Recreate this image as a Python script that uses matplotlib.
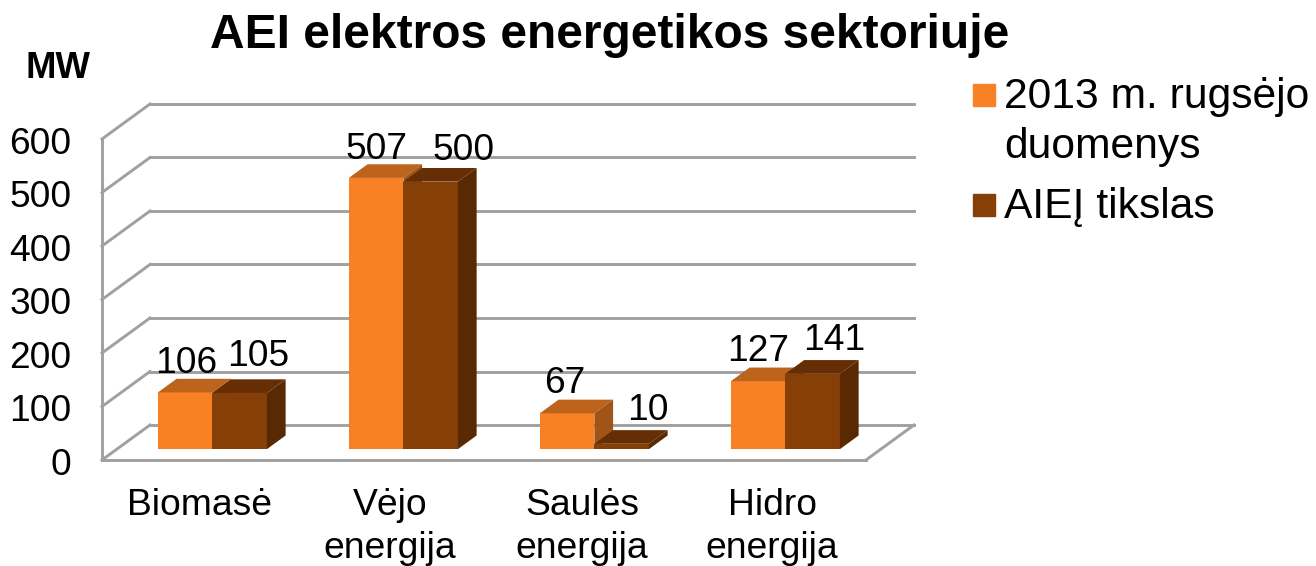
import matplotlib
matplotlib.use('Agg')
import matplotlib.pyplot as plt
from matplotlib.patches import Patch, Polygon
from matplotlib.transforms import ScaledTranslation

plt.rcParams['font.family'] = ['Liberation Sans', 'DejaVu Sans']

categories = ['Biomasė', 'Vėjo\nenergija', 'Saulės\nenergija', 'Hidro\nenergija']
values_2013 = [106, 507, 67, 127]
values_goal = [105, 500, 10, 141]
y_ticks = [0, 100, 200, 300, 400, 500, 600]
series_names = ['2013 m. rugsėjo\nduomenys', 'AIEĮ tikslas']

# pixel scale of the plot box
X_PX = 191.0   # px for one category
Y_PX = 0.535   # px for one MW
X0, Y0 = 102, 460

# oblique depth of the 3d box, data units
DX = 48 / X_PX
DY = 35 / Y_PX
BAR_W = 0.2855
D_FRONT = 0.31
D_BACK = 0.70

ORANGE = ('#F98125', '#BC631C', '#A05417')   # front, top, side
BROWN = ('#873F08', '#662E05', '#592903')
GRID = '#A0A0A0'
LW = 2.1

fig = plt.figure(figsize=(13.16, 5.66), dpi=100)
ax = fig.add_axes([0, 0, 1, 1])
ax.set_xlim(-X0 / X_PX, (1316 - X0) / X_PX)
ax.set_ylim((Y0 - 566) / Y_PX, Y0 / Y_PX)
ax.patch.set_visible(False)

# walls and floor
for v in y_ticks:
    ax.plot([0, DX], [v, v + DY], color=GRID, lw=LW, zorder=1)
    ax.plot([DX, 4 + DX], [v + DY, v + DY], color=GRID, lw=LW, zorder=1)
ax.plot([4, 4 + DX], [0, DY], color=GRID, lw=LW, zorder=1)


def draw_bars(left, values, colors):
    base = D_FRONT * DY
    x = [p + D_FRONT * DX for p in left]
    ax.bar(x, values, BAR_W, bottom=base, align='edge', color=colors[0], zorder=3)
    ddx = (D_BACK - D_FRONT) * DX
    ddy = (D_BACK - D_FRONT) * DY
    for xi, v in zip(x, values):
        xr = xi + BAR_W
        top = base + v
        ax.add_patch(Polygon([(xi, top), (xr, top), (xr + ddx, top + ddy), (xi + ddx, top + ddy)],
                             fc=colors[1], ec='none', zorder=3))
        ax.add_patch(Polygon([(xr, base), (xr + ddx, base + ddy), (xr + ddx, top + ddy), (xr, top)],
                             fc=colors[2], ec='none', zorder=3))


left_a = [i + 0.5 - BAR_W for i in range(4)]
left_b = [i + 0.5 for i in range(4)]
draw_bars(left_a, values_2013, ORANGE)
draw_bars(left_b, values_goal, BROWN)

# data labels, moved by hand like in the original, pixels from the top of the front face
nudge_a = [(1, 29), (0, 28), (-2, 30), (0, 30)]
nudge_b = [(19, 36), (33, 31), (26, 33), (22, 33)]
for left, vals, nudges in ((left_a, values_2013, nudge_a), (left_b, values_goal, nudge_b)):
    for p, v, n in zip(left, vals, nudges):
        ax.annotate(str(v), xy=(p + D_FRONT * DX + BAR_W / 2, D_FRONT * DY + v), xytext=n,
                    textcoords='offset pixels', ha='center', va='center',
                    fontsize=26.7, color='black', zorder=5)

# axes
for s in ('top', 'right'):
    ax.spines[s].set_visible(False)
ax.spines['left'].set_position(('data', 0))
ax.spines['bottom'].set_position(('data', 0))
ax.spines['left'].set_bounds(0, 600)
ax.spines['bottom'].set_bounds(0, 4)
for s in ('left', 'bottom'):
    ax.spines[s].set_color(GRID)
    ax.spines[s].set_linewidth(LW)
ax.set_yticks(y_ticks)
ax.set_xticks([0.508, 1.508, 2.513, 3.508])
ax.set_xticklabels(categories, linespacing=1.27)
ax.tick_params(axis='y', length=0, pad=22, labelsize=26.7)
ax.tick_params(axis='x', length=0, pad=20.5, labelsize=26.8)
down = ScaledTranslation(0, -1 / 72, fig.dpi_scale_trans)
for t in ax.get_yticklabels():
    t.set_transform(t.get_transform() + down)

fig.suptitle('AEI elektros energetikos sektoriuje', x=610 / 1316, y=1 - 36 / 566,
             ha='center', va='center', fontsize=34.5, fontweight='bold')
fig.text(25 / 1316, 1 - 68 / 566, 'MW', ha='left', va='center', fontsize=26.3, fontweight='bold')

handles = [Patch(color=ORANGE[0]), Patch(color=BROWN[0])]
leg = ax.legend(handles, series_names, loc='upper left', bbox_to_anchor=(973 / 1316, 1 - 77 / 566),
                bbox_transform=fig.transFigure, frameon=False, fontsize=30.7, borderpad=0,
                borderaxespad=0, handlelength=0.515, handleheight=0.415, handletextpad=0.21,
                labelspacing=0.46)
for t in leg.get_texts():
    t.set_linespacing(1.32)
# squares sit a bit off the text centre
h = leg.legend_handles[0]
h.set_y(h.get_y() + 19.5)
h = leg.legend_handles[1]
h.set_y(h.get_y() - 2)

fig.savefig('out.png', dpi=100)
